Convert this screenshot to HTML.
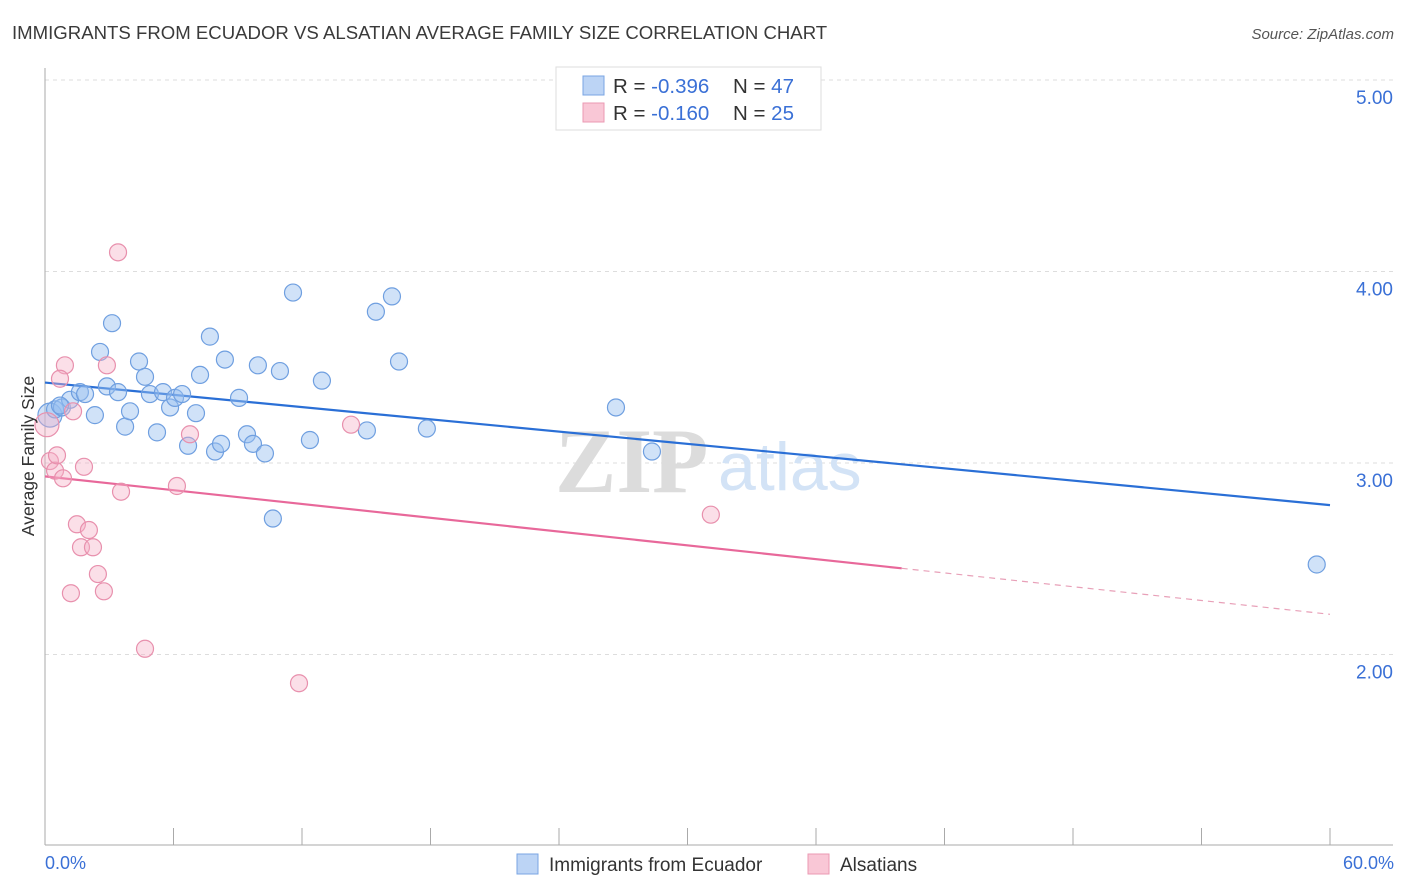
<!DOCTYPE html>
<html><head><meta charset="utf-8"><style>
body{margin:0;background:#fff;font-family:"Liberation Sans",sans-serif;}
svg{display:block}
</style></head><body>
<svg width="1406" height="892" xmlns="http://www.w3.org/2000/svg">
<text x="12" y="39" font-size="18.6" fill="#3a3a3a">IMMIGRANTS FROM ECUADOR VS ALSATIAN AVERAGE FAMILY SIZE CORRELATION CHART</text>
<text x="1394" y="39" font-size="15" fill="#555" font-style="italic" text-anchor="end">Source: ZipAtlas.com</text>
<g id="grid"></g>
<g id="axes"></g>
<text x="555" y="492" font-size="92" fill="#dcdcdc" font-family="Liberation Serif" font-weight="bold">ZIP</text>
<text x="718" y="490" font-size="68" fill="#d3e3f6">atlas</text>
<g id="lines"></g>
<g id="pts"></g>
<text transform="translate(34,456) rotate(-90)" font-size="17.5" fill="#333" text-anchor="middle">Average Family Size</text>
<text x="45" y="869" font-size="18" fill="#3a70d6">0.0%</text>
<text x="1394" y="869" font-size="18" fill="#3a70d6" text-anchor="end">60.0%</text>
<g>
<rect x="556" y="67" width="265" height="63" fill="#fff" stroke="#ddd"/>
<rect x="583" y="76" width="21" height="19" fill="#bcd4f5" stroke="#7aa5e3"/>
<rect x="583" y="103" width="21" height="19" fill="#f9c7d6" stroke="#eb9ab3"/>
<text x="613" y="93" font-size="20.5" fill="#333">R = <tspan fill="#3a70d6">-0.396</tspan><tspan x="733">N = </tspan><tspan fill="#3a70d6">47</tspan></text>
<text x="613" y="120" font-size="20.5" fill="#333">R = <tspan fill="#3a70d6">-0.160</tspan><tspan x="733">N = </tspan><tspan fill="#3a70d6">25</tspan></text>
</g>
<g>
<rect x="517" y="854" width="21" height="20" fill="#bcd4f5" stroke="#7aa5e3"/>
<text x="549" y="871" font-size="19" fill="#333">Immigrants from Ecuador</text>
<rect x="808" y="854" width="21" height="20" fill="#f9c7d6" stroke="#eb9ab3"/>
<text x="840" y="871" font-size="19" fill="#333">Alsatians</text>
</g>
</svg>
<script>
const yTicks=[2,3,4,5];
const yTickLabels=["2.00","3.00","4.00","5.00"];
const blueX=[0.23,0.47,0.79,1.17,1.63,1.87,2.33,2.57,2.89,3.13,3.41,3.74,3.97,4.39,4.67,4.90,5.23,5.51,5.84,6.07,6.40,6.68,7.05,7.24,7.70,7.94,8.22,8.40,9.06,9.43,9.71,9.94,10.27,10.64,10.97,11.58,12.37,12.93,15.03,15.45,16.20,16.53,17.83,26.66,28.34,59.38,0.70];
const blueY=[3.25,3.28,3.29,3.33,3.37,3.36,3.25,3.58,3.40,3.73,3.37,3.19,3.27,3.53,3.45,3.36,3.16,3.37,3.29,3.34,3.36,3.09,3.26,3.46,3.66,3.06,3.10,3.54,3.34,3.15,3.10,3.51,3.05,2.71,3.48,3.89,3.12,3.43,3.17,3.79,3.87,3.53,3.18,3.29,3.06,2.47,3.30];
const pinkX=[0.09,0.23,0.47,0.56,0.84,0.93,0.70,1.31,1.82,1.49,2.05,1.68,2.24,2.47,1.21,2.75,3.41,2.89,3.55,4.67,6.16,6.77,11.86,14.29,31.09];
const pinkY=[3.20,3.01,2.96,3.04,2.92,3.51,3.44,3.27,2.98,2.68,2.65,2.56,2.56,2.42,2.32,2.33,4.10,3.51,2.85,2.03,2.88,3.15,1.85,3.20,2.73];
const blueTrend=[3.42,2.78];
const pinkTrend=[2.93,2.21];
const pinkSolidEnd=40;
const NS="http://www.w3.org/2000/svg";
const X=p=>45+p*(1285/60);
const Y=v=>463-(v-3)*191.5;
function mk(tag,attrs,parent){const e=document.createElementNS(NS,tag);for(const k in attrs)e.setAttribute(k,attrs[k]);parent.appendChild(e);return e;}
const grid=document.getElementById('grid'),axes=document.getElementById('axes');
yTicks.forEach((t,i)=>{
  const l=mk('line',{x1:45,x2:1393,y1:Y(t),y2:Y(t),stroke:'#ddd','stroke-dasharray':'4,4'},grid);
  
  
  const tx=mk('text',{x:1393,y:Y(t)+24,'font-size':19,fill:'#3a70d6','text-anchor':'end'},grid);
  tx.textContent=yTickLabels[i];
  
  
});
let ax=mk('line',{x1:45,x2:45,y1:68,y2:845,stroke:'#aaa'},axes);


ax=mk('line',{x1:45,x2:1393,y1:845,y2:845,stroke:'#aaa'},axes);


for(let p=0;p<=60;p+=6){
  const t=mk('line',{x1:X(p),x2:X(p),y1:828,y2:845,stroke:'#aaa'},axes);
  
  
}
const lines=document.getElementById('lines');
const Ty=(tr,p)=>tr[0]+(tr[1]-tr[0])*p/60;
let ln=mk('line',{x1:X(0),y1:Y(Ty(blueTrend,0)),x2:X(60),y2:Y(Ty(blueTrend,60)),stroke:'#2a6fd6','stroke-width':2.2},lines);


ln=mk('line',{x1:X(0),y1:Y(Ty(pinkTrend,0)),x2:X(pinkSolidEnd),y2:Y(Ty(pinkTrend,pinkSolidEnd)),stroke:'#e8689a','stroke-width':2.2},lines);


ln=mk('line',{x1:X(pinkSolidEnd),y1:Y(Ty(pinkTrend,pinkSolidEnd)),x2:X(60),y2:Y(Ty(pinkTrend,60)),stroke:'#e8a0b8','stroke-width':1.2,'stroke-dasharray':'6,5'},lines);


const pts=document.getElementById('pts');
blueX.forEach((x,i)=>{
  const c=mk('circle',{cx:X(x),cy:Y(blueY[i]),r:i==0?12:8.5,fill:'rgba(150,190,240,0.45)',stroke:'#6f9fe0','stroke-width':1.2},pts);
  
  
});
pinkX.forEach((x,i)=>{
  const c=mk('circle',{cx:X(x),cy:Y(pinkY[i]),r:i==0?12:8.5,fill:'rgba(246,175,198,0.4)',stroke:'#e890ad','stroke-width':1.2},pts);
  
  
});
</script>
</body></html>
